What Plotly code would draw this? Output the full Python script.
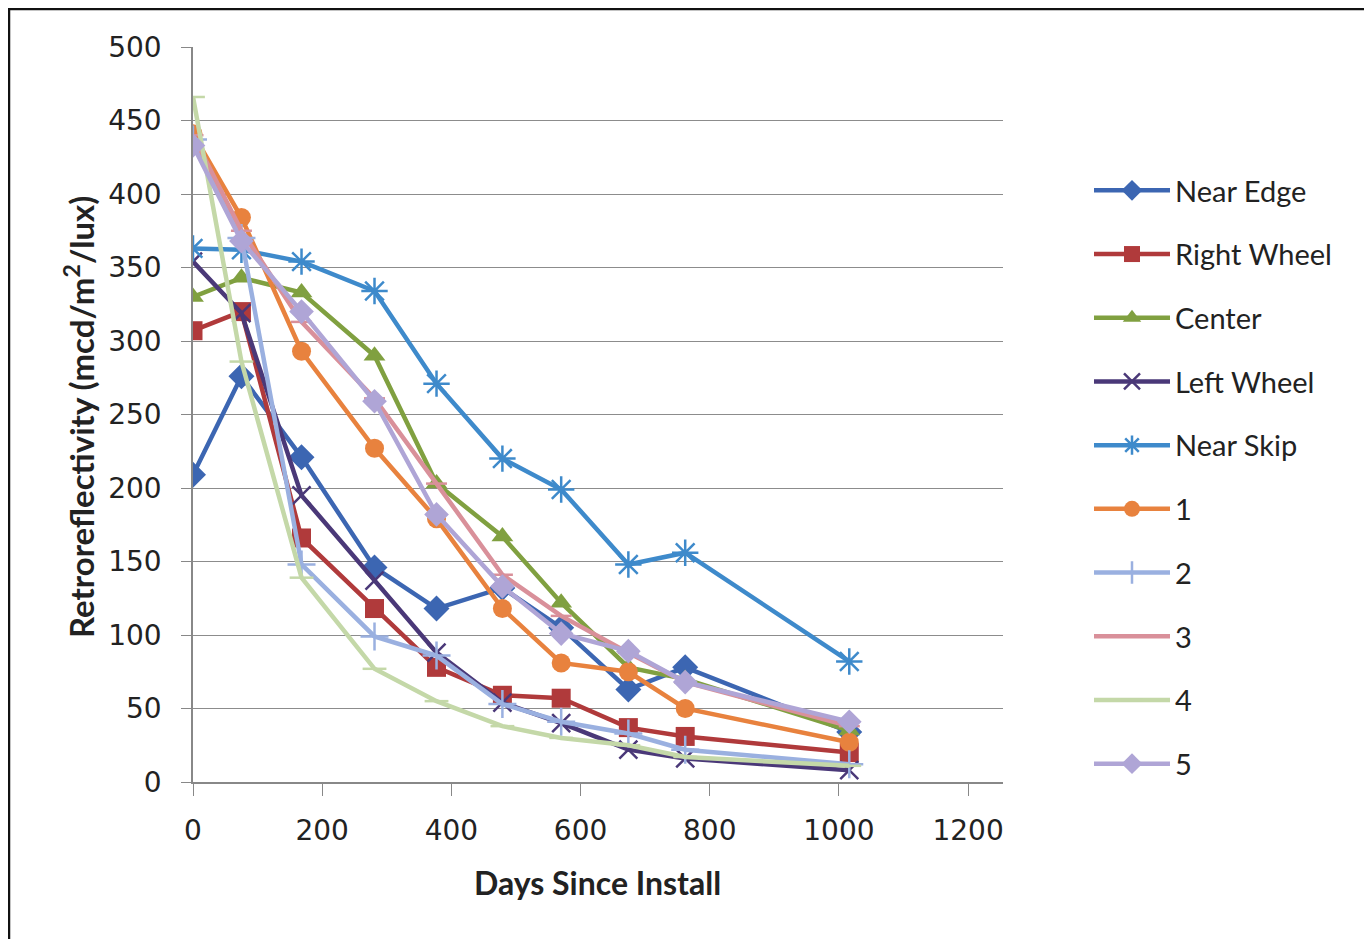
import plotly.graph_objects as go

days = [0, 75, 168, 281, 377, 479, 570, 674, 762, 1016]

near_edge = [209, 276, 221, 146, 118, 132, 105, 63, 78, 34]
right_wheel = [307, 320, 166, 118, 78, 59, 57, 37, 31, 20]
center = [330, 343, 333, 290, 203, 167, 122, 78, 70, 35]
left_wheel = [354, 319, 195, 137, 88, 54, 40, 22, 16, 8]
near_skip = [363, 362, 354, 334, 271, 220, 199, 148, 156, 82]
s1 = [441, 384, 293, 227, 179, 118, 81, 75, 50, 27]
s2 = [437, 370, 148, 99, 86, 53, 41, 33, 22, 12]
s3 = [440, 375, 313, 261, 203, 141, 113, 88, 68, 38]
s4 = [466, 286, 139, 77, 55, 38, 30, 25, 17, 11]
s5 = [433, 368, 320, 259, 182, 133, 101, 89, 68, 41]

series_names = ["Near Edge", "Right Wheel", "Center", "Left Wheel", "Near Skip",
                "1", "2", "3", "4", "5"]
series_values = [near_edge, right_wheel, center, left_wheel, near_skip,
                 s1, s2, s3, s4, s5]

colors = ["#3C66B2", "#B03A3B", "#80A040", "#4A3878", "#3E8ACB",
          "#E8823E", "#9AB0E0", "#D9909A", "#C4D8A8", "#AFA5D6"]
symbols = ["diamond", "square", "triangle-up", "x-thin-open", "asterisk-open",
           "circle", "cross-thin-open", "line-ew-open", "line-ew-open", "diamond"]
sizes = [20, 19, 19, 18, 22, 19, 20, 15, 17, 19]

# figure geometry (page has an 8px body margin)
W, H = 1364, 931
L, T, PW, PH = 185, 39, 810, 735
B = T + PH


def px(x):
    return (x - L) / PW


def py(y):
    return (B - y) / PH


fig = go.Figure()
for i, (name, vals) in enumerate(zip(series_names, series_values)):
    sym = symbols[i]
    open_sym = sym.endswith("open")
    fig.add_trace(go.Scatter(
        x=days, y=vals, name=name, mode="lines+markers",
        legendgroup=name,
        line=dict(color=colors[i], width=4.5),
        marker=dict(symbol=sym, size=sizes[i], color=colors[i],
                    line=dict(color=colors[i], width=2.5 if open_sym else 0)),
    ))

fig.update_layout(
    width=W, height=H,
    margin=dict(l=L, r=W - L - PW, t=T, b=H - B),
    paper_bgcolor="white", plot_bgcolor="white",
    showlegend=True,
    legend=dict(x=px(1081), y=py(157), xanchor="left", yanchor="top",
                font=dict(family="Lato", size=29, color="#222222"),
                itemwidth=76,
                tracegroupgap=23, bgcolor="rgba(0,0,0,0)"),
    font=dict(family="DejaVu Sans", color="#222222"),
)

fig.update_xaxes(
    range=[0, 1254], tickvals=[0, 200, 400, 600, 800, 1000, 1200],
    showgrid=False, zeroline=False,
    showline=True, linecolor="#888888", linewidth=1.5,
    ticks="outside", ticklen=12, tickcolor="#888888",
    tickfont=dict(family="DejaVu Sans", size=28, color="#222222"),
    ticklabelstandoff=11,
)
fig.update_yaxes(
    range=[0, 500], tickvals=[0, 50, 100, 150, 200, 250, 300, 350, 400, 450, 500],
    showgrid=True, gridcolor="#8C8C8C", gridwidth=1.3, zeroline=False,
    showline=True, linecolor="#888888", linewidth=1.5,
    ticks="outside", ticklen=10, tickcolor="#888888",
    tickfont=dict(family="DejaVu Sans", size=28, color="#222222"),
    ticklabelstandoff=14,
)

fig.add_annotation(text="<b>Days Since Install</b>", xref="paper", yref="paper",
                   x=px(589), y=py(874), xanchor="center", yanchor="middle",
                   showarrow=False,
                   font=dict(family="Lato", size=32, color="#222222"))
fig.add_annotation(text="<b>Retroreflectivity (mcd/m<sup>2</sup>/lux)</b>",
                   xref="paper", yref="paper", textangle=-90,
                   x=px(71), y=py(409), xanchor="center", yanchor="middle",
                   showarrow=False,
                   font=dict(family="Lato", size=33, color="#222222"))

fig.add_shape(type="rect", xref="paper", yref="paper",
              x0=px(1), x1=px(1360), y0=py(960), y1=py(1),
              line=dict(color="#111111", width=2.5))

fig.write_html("out.html")
